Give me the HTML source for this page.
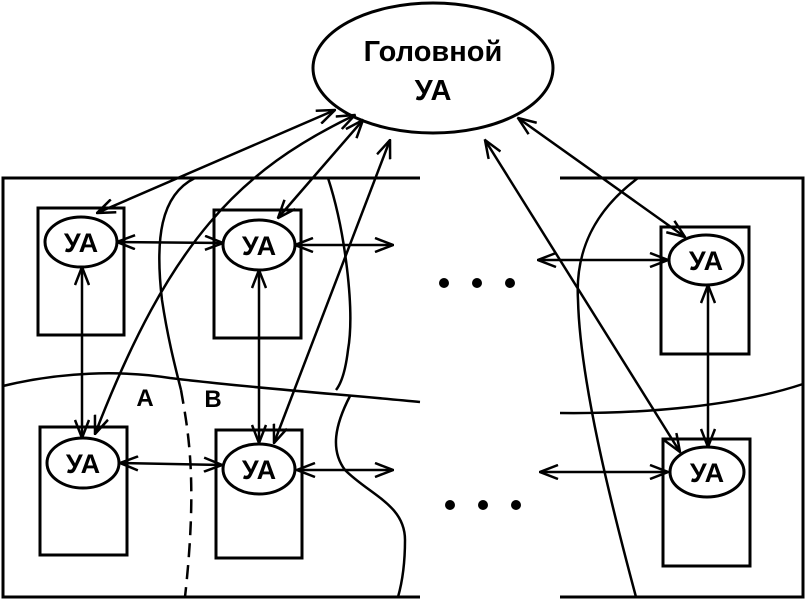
<!DOCTYPE html>
<html><head><meta charset="utf-8"><style>body{margin:0;background:#fff}svg{display:block}</style></head><body>
<svg width="805" height="600" viewBox="0 0 805 600" xmlns="http://www.w3.org/2000/svg" font-family="Liberation Sans, sans-serif">
<defs>
<marker id="a" viewBox="0 0 20 16" refX="19" refY="8" markerWidth="20" markerHeight="16" markerUnits="userSpaceOnUse" orient="auto-start-reverse">
<path d="M1,1 L19,8 L1,15" fill="none" stroke="#000" stroke-width="2.5"/>
</marker>
</defs>
<g fill="none" stroke="#000" stroke-width="3">
<path d="M420,178 H3 V597 H420"/>
<path d="M560,178 H803 V597 H560"/>
<ellipse cx="433" cy="68" rx="120" ry="65"/>
<rect x="38" y="208" width="86" height="127"/>
<rect x="214" y="210" width="87" height="128"/>
<rect x="40" y="427" width="87" height="128"/>
<rect x="216" y="430" width="86" height="128"/>
<rect x="661" y="227" width="88" height="127"/>
<rect x="663" y="439" width="87" height="127"/>
<ellipse cx="81" cy="242" rx="36" ry="25" fill="#fff"/>
<ellipse cx="259" cy="245" rx="36" ry="25" fill="#fff"/>
<ellipse cx="83" cy="463" rx="36" ry="25" fill="#fff"/>
<ellipse cx="259" cy="469" rx="36" ry="25" fill="#fff"/>
<ellipse cx="706" cy="260" rx="37" ry="25" fill="#fff"/>
<ellipse cx="707" cy="472" rx="37" ry="25" fill="#fff"/>
</g>
<g fill="none" stroke="#000" stroke-width="2.5">
<path d="M195,178 C160,195 155,240 162,300 C168,340 176,370 181,390"/>
<path d="M181,390 C188,430 198,480 185,597" stroke-dasharray="14,8"/>
<path d="M328,178 C345,230 355,310 348,350 C345,375 340,385 336,390"/>
<path d="M3,386 C60,372 120,370 170,378 C250,388 350,395 420,402"/>
<path d="M350,396 C335,425 330,450 345,470 C370,495 405,505 405,540 C405,570 400,590 398,597"/>
<path d="M560,413 C650,414 740,405 803,384"/>
<path d="M638,178 C595,210 575,250 578,300 C580,380 610,500 636,597"/>
</g>
<g fill="none" stroke="#000" stroke-width="2.5" marker-start="url(#a)" marker-end="url(#a)">
<line x1="117" y1="242" x2="223" y2="243"/>
<line x1="295" y1="245" x2="393" y2="245"/>
<line x1="120" y1="463" x2="222" y2="465"/>
<line x1="297" y1="470" x2="393" y2="470"/>
<line x1="538" y1="260" x2="668" y2="260"/>
<line x1="540" y1="472" x2="668" y2="472"/>
<line x1="82" y1="267" x2="82" y2="438"/>
<line x1="259" y1="270" x2="259" y2="443"/>
<line x1="708" y1="285" x2="708" y2="447"/>
<line x1="335" y1="110" x2="97" y2="213"/>
<path d="M355,115 C240,170 170,240 95,434"/>
<line x1="363" y1="120" x2="278" y2="218"/>
<line x1="390" y1="140" x2="274" y2="443"/>
<line x1="518" y1="118" x2="685" y2="237"/>
<line x1="485" y1="140" x2="680" y2="452"/>
</g>
<g fill="#000">
<circle cx="444" cy="283" r="5"/><circle cx="477" cy="283" r="5"/><circle cx="510" cy="283" r="5"/>
<circle cx="450" cy="505" r="5"/><circle cx="483" cy="505" r="5"/><circle cx="516" cy="505" r="5"/>
</g>
<g font-size="27" font-weight="bold" text-anchor="middle" fill="#000">
<text x="81" y="252">УА</text>
<text x="259" y="255">УА</text>
<text x="83" y="473">УА</text>
<text x="259" y="479">УА</text>
<text x="706" y="270">УА</text>
<text x="707" y="482">УА</text>
<text x="433" y="61" font-size="29">Головной</text>
<text x="433" y="100" font-size="29">УА</text>
<text x="145" y="406" font-size="24">А</text>
<text x="213" y="407" font-size="24">В</text>
</g>
</svg>
</body></html>
